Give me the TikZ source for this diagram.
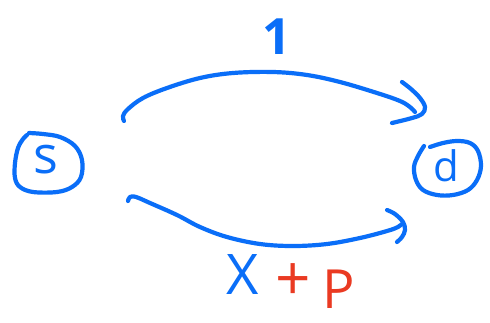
\documentclass[tikz,border=0pt]{standalone}
\usepackage{fontspec}
\setmainfont{Open Sans}
\definecolor{inkblue}{HTML}{0A6EF8}
\definecolor{inkred}{HTML}{EA3A22}
\tikzset{
  ink/.style={draw=inkblue, line width=4.2pt, line cap=round, line join=round},
  lbl/.style={inner sep=0pt, text=inkblue},
}
\begin{document}
\begin{tikzpicture}[x=1pt, y=-1pt]
\useasboundingbox[fill=white] (0,0) rectangle (490,322);
% nodes
\node[lbl, font=\fontsize{52}{52}\selectfont] (s) at (46,160) {s};
\node[lbl, font=\fontsize{42}{42}\selectfont] (d) at (446,166) {d};
% rings
\draw[ink] plot[smooth, tension=0.6] coordinates {(27,135) (23,139) (18,148) (15,163) (15,178) (20,187) (33,192) (57,192) (72,187) (81,177) (82,160) (75,146) (60,137) (43,134) (29,133)};
\draw[ink] plot[smooth, tension=0.6] coordinates {(424,146) (418,156) (414,167) (416,180) (423,190) (437,195) (453,195) (468,190) (477,180) (481,166) (478,151) (470,143) (457,141) (443,143) (430,147)};
% top connector
\coordinate (ta) at (124,121);
\coordinate (tb) at (415,112);
\draw[ink] plot[smooth, tension=0.6] coordinates {(ta) (123,116) (128,109) (143,98) (167,88) (200,78) (233,73) (273,72) (307,75) (340,82) (377,93) (400,101) (410,107) (tb)};
\draw[ink] plot[smooth, tension=0.6] coordinates {(402,82) (411,89) (420,98) (425,107) (422,114) (412,118) (392,123)};
% bottom connector
\coordinate (ba) at (128,201);
\coordinate (bb) at (403,223);
\draw[ink] plot[smooth, tension=0.6] coordinates {(ba) (130,197) (136,197) (150,203) (177,215) (200,227) (227,237) (260,244) (293,246) (327,244) (360,238) (387,231) (398,227) (bb)};
\draw[ink] plot[smooth, tension=0.6] coordinates {(387,210) (395,214) (403,222) (405,230) (402,237) (397,242)};
% labels
\node[lbl, font=\bfseries\fontsize{50}{50}\selectfont] (one) at (277,37) {1};
\node[lbl, font=\fontsize{56}{56}\selectfont] (x) at (243,275) {X};
\node[lbl, text=inkred, font=\fontsize{62}{62}\selectfont] (plus) at (293,282) {+};
\node[lbl, text=inkred, font=\fontsize{54}{54}\selectfont] (p) at (339,289) {P};
\end{tikzpicture}
\end{document}
